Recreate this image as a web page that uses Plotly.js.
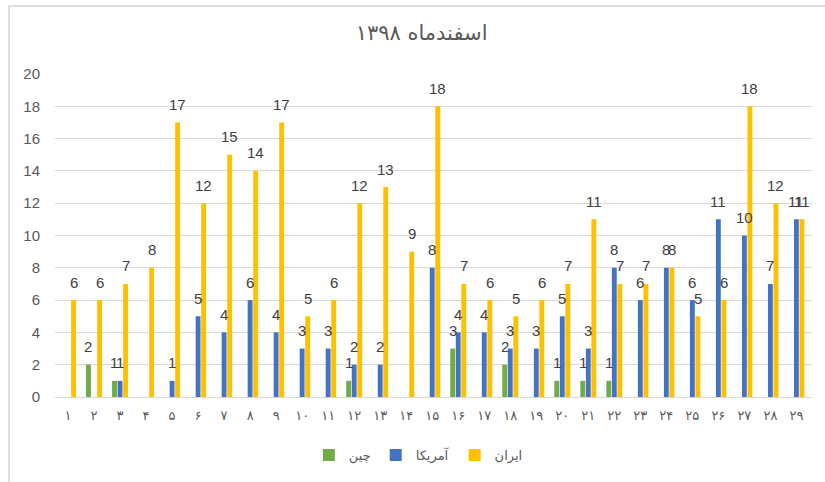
<!DOCTYPE html>
<html>
<head>
<meta charset="utf-8">
<script src="https://cdn.plot.ly/plotly-3.0.1.min.js"></script>
<style>
  html, body { margin: 0; padding: 0; background: #fff; }
  #wrap { position: relative; width: 825px; height: 482px; overflow: hidden; }
  #chart { width: 825px; height: 482px; }
  #frame { position: absolute; left: 8px; top: 5px; width: 900px; height: 600px;
           border-left: 2px solid #dedede; border-top: 2px solid #dedede; pointer-events: none; }
</style>
</head>
<body>
<div id="wrap">
  <div id="chart"></div>
  <div id="frame"></div>
</div>
<script>
const days = ['۱','۲','۳','۴','۵','۶','۷','۸','۹','۱۰','۱۱','۱۲','۱۳','۱۴','۱۵','۱۶','۱۷','۱۸','۱۹','۲۰','۲۱','۲۲','۲۳','۲۴','۲۵','۲۶','۲۷','۲۸','۲۹'];
const china = [null,2,1,null,null,null,null,null,null,null,null,1,null,null,null,3,null,2,null,1,1,1,null,null,null,null,null,null,null];
const usa   = [null,null,1,null,1,5,4,6,4,3,3,2,2,null,8,4,4,3,3,5,3,8,6,8,6,11,10,7,11];
const iran  = [6,6,7,8,17,12,15,14,17,5,6,12,13,9,18,7,6,5,6,7,11,7,7,8,5,6,18,12,11];
const seriesNames = ['چین','آمریکا','ایران'];
const seriesColors = ['#70AD47','#4472C4','#FFC000'];
const seriesData = [china, usa, iran];

const FONT = 'Liberation Sans, DejaVu Sans, sans-serif';
const shifts = [-5.6, 0, 5.6];

const traces = seriesData.map((vals, i) => ({
  type: 'bar',
  name: seriesNames[i],
  x: days,
  y: vals,
  marker: { color: seriesColors[i] },
  hoverinfo: 'skip'
}));

const annotations = [];
seriesData.forEach((vals, i) => {
  vals.forEach((v, j) => {
    if (v === null) return;
    annotations.push({
      x: days[j], y: v, xref: 'x', yref: 'y',
      text: String(v), showarrow: false,
      xshift: shifts[i], yshift: 18, yanchor: 'middle',
      font: { family: FONT, size: 15, color: '#404040' }
    });
  });
});

const layout = {
  width: 825, height: 482,
  margin: { l: 55, r: 13, t: 74, b: 83 },
  paper_bgcolor: '#ffffff', plot_bgcolor: '#ffffff',
  title: {
    text: 'اسفندماه ۱۳۹۸',
    x: 0.511, xref: 'container', xanchor: 'center',
    y: 0.932, yref: 'container', yanchor: 'middle',
    font: { family: 'DejaVu Sans, sans-serif', size: 21, color: '#595959' }
  },
  barmode: 'group',
  bargap: 0.36,
  bargroupgap: 0.12,
  xaxis: {
    type: 'category',
    showgrid: false,
    showline: true, linecolor: '#d9d9d9', linewidth: 1,
    ticks: '',
    ticklabelstandoff: 6,
    tickfont: { family: 'DejaVu Sans, sans-serif', size: 13, color: '#595959' },
    zeroline: false,
    fixedrange: true
  },
  yaxis: {
    range: [0, 20],
    dtick: 2,
    tick0: 0,
    showgrid: true, gridcolor: '#d9d9d9', gridwidth: 1,
    zeroline: false,
    showline: false,
    ticks: '',
    ticklabelstandoff: 14,
    tickfont: { family: FONT, size: 15, color: '#595959' },
    fixedrange: true
  },
  showlegend: true,
  legend: {
    orientation: 'h',
    x: 0.48, xanchor: 'center',
    y: -0.18, yanchor: 'middle',
    font: { family: 'DejaVu Sans, sans-serif', size: 13, color: '#595959' },
    itemwidth: 30,
    traceorder: 'normal'
  },
  annotations: annotations
};

Plotly.newPlot('chart', traces, layout, { displayModeBar: false, staticPlot: true });
</script>
</body>
</html>
